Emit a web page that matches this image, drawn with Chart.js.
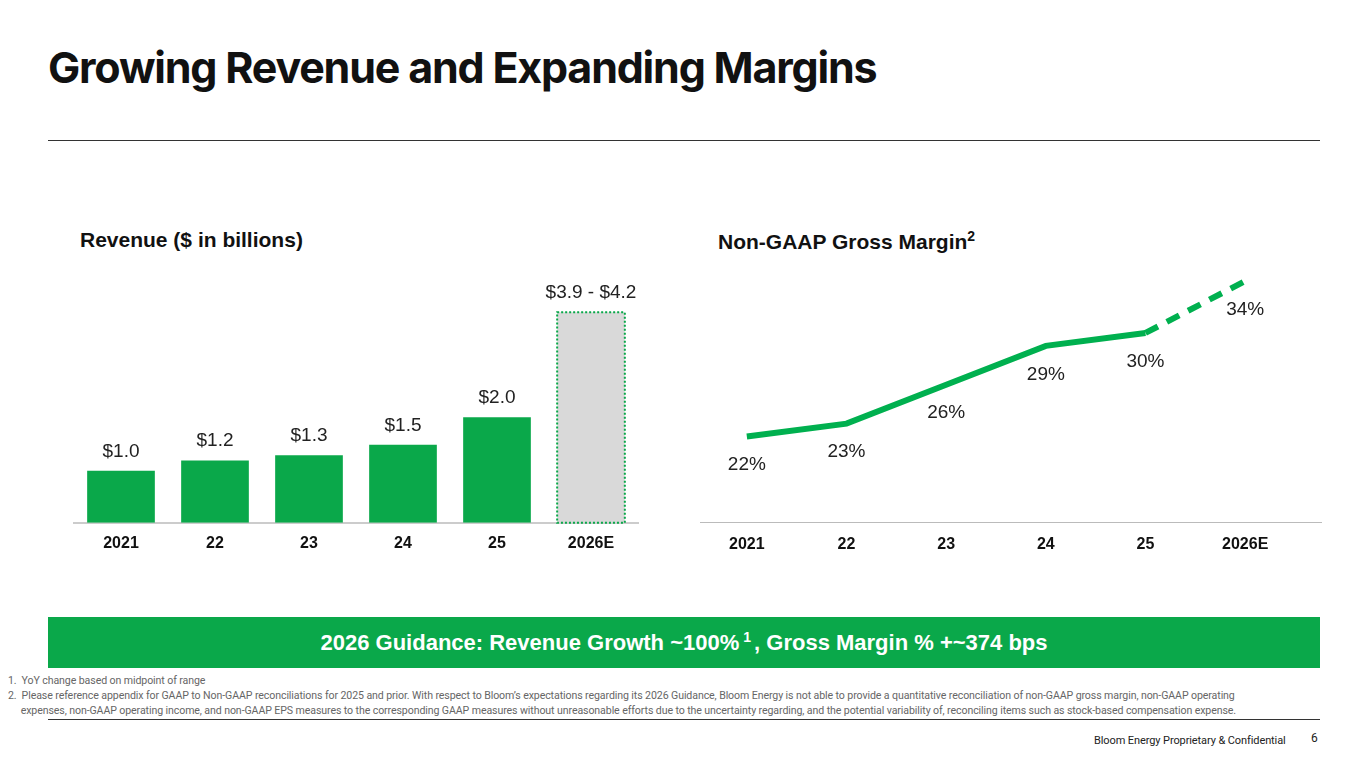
<!DOCTYPE html>
<html>
<head>
<meta charset="utf-8">
<script src="https://cdn.jsdelivr.net/npm/chart.js@4.4.0/dist/chart.umd.min.js"></script>
<style>
  body { margin:0; width:1365px; height:768px; background:#fff; position:relative; overflow:hidden; font-family:"Liberation Sans", Arial, sans-serif; }
  .abs { position:absolute; }
  h1 { position:absolute; left:48px; top:41px; margin:0; font:700 43px Inter, sans-serif; letter-spacing:-1.2px; color:#111; }
  .rule { position:absolute; height:1px; background:#333; }
  .sub { font-weight:700; font-size:21px; color:#111; }
  .banner { left:48px; top:617px; width:1272px; height:51px; background:#0aa84a; color:#fff; font-weight:700; font-size:22px; display:flex; align-items:center; justify-content:center; }
  .note { font:10.6px "Roboto", sans-serif; color:#666; line-height:15px; letter-spacing:-0.1px; }
</style>
</head>
<body>
<h1>Growing Revenue and Expanding Margins</h1>
<div class="rule" style="left:48px;top:140px;width:1272px;"></div>
<div class="abs sub" style="left:80px;top:228px;">Revenue ($ in billions)</div>
<div class="abs sub" style="left:718px;top:228px;">Non-GAAP Gross Margin<sup style="font-size:14px">2</sup></div>

<div class="abs" style="left:70px;top:250px;width:572px;height:306px;"><canvas id="rev"></canvas></div>
<div class="abs" style="left:685px;top:250px;width:622px;height:310px;"><canvas id="gm"></canvas></div>
<div class="rule" style="left:700px;top:522px;width:622px;background:#bbb;"></div>

<div class="abs banner"><span>2026 Guidance: Revenue Growth ~100%<sup style="font-size:14px;margin:0 3px 0 4px">1</sup>, Gross Margin % +~374 bps</span></div>
<div class="abs note" style="left:8px;top:673px;width:1355px;">
1.&nbsp;&nbsp;YoY change based on midpoint of range<br>
2.&nbsp;&nbsp;Please reference appendix for GAAP to Non-GAAP reconciliations for 2025 and prior. With respect to Bloom’s expectations regarding its 2026 Guidance, Bloom Energy is not able to provide a quantitative reconciliation of non-GAAP gross margin, non-GAAP operating<br>
&nbsp;&nbsp;&nbsp;&nbsp;&nbsp;expenses, non-GAAP operating income, and non-GAAP EPS measures to the corresponding GAAP measures without unreasonable efforts due to the uncertainty regarding, and the potential variability of, reconciling items such as stock-based compensation expense.
</div>
<div class="rule" style="left:48px;top:719px;width:1272px;"></div>
<div class="abs note" style="left:1094px;top:733px;color:#222;font-size:11px;">Bloom Energy Proprietary &amp; Confidential</div>
<div class="abs note" style="left:1311px;top:731px;color:#222;font-size:12px;">6</div>

<script>
const years = ['2021', '22', '23', '24', '25', '2026E'];
const revenue = [1.0, 1.2, 1.3, 1.5, 2.03, 4.05];
const revenueLabels = ['$1.0', '$1.2', '$1.3', '$1.5', '$2.0', '$3.9 - $4.2'];
const margin = [22, 23, 26, 29, 30, 34];
const marginLabels = ['22%', '23%', '26%', '29%', '30%', '34%'];

const GREEN = '#0aa84a';

const labelPlugin = {
  id: 'labels',
  afterDatasetsDraw(chart, args, opts) {
    const ctx = chart.ctx;
    const meta = chart.getDatasetMeta(0);
    ctx.save();
    ctx.font = '19px "Liberation Sans", Arial';
    ctx.fillStyle = '#222';
    ctx.textAlign = 'center';
    meta.data.forEach((el, i) => {
      if (opts.below) {
        ctx.textBaseline = 'top';
        ctx.fillText(opts.text[i], el.x, el.y + 19);
      } else {
        ctx.textBaseline = 'bottom';
        ctx.fillText(opts.text[i], el.x, el.y - 10);
      }
    });
    ctx.restore();
  }
};

// dotted green outline around the estimate bar
const dottedBar = {
  id: 'dottedBar',
  afterDatasetsDraw(chart) {
    const el = chart.getDatasetMeta(0).data[5];
    const ctx = chart.ctx;
    const w = el.width / 2;
    ctx.save();
    ctx.strokeStyle = GREEN;
    ctx.lineWidth = 2;
    ctx.setLineDash([2, 2]);
    ctx.strokeRect(el.x - w, el.y, el.width, el.base - el.y);
    ctx.restore();
  }
};

new Chart(document.getElementById('rev'), {
  type: 'bar',
  data: {
    labels: years,
    datasets: [{
      data: revenue,
      backgroundColor: revenue.map((v, i) => i === 5 ? '#d9d9d9' : GREEN),
      borderWidth: 0,
      categoryPercentage: 0.72, barPercentage: 1
    }]
  },
  options: {
    responsive: true, maintainAspectRatio: false, animation: false,
    layout: { padding: { top: 0, left: 4, right: 4 } },
    plugins: { legend: { display: false }, tooltip: { enabled: false }, labels: { text: revenueLabels } },
    scales: {
      x: { grid: { display: false }, border: { color: '#ccc', width: 2 },
           ticks: { color: '#111', font: { family: '"Liberation Sans", Arial', size: 16, weight: 'bold' }, padding: 3 } },
      y: { display: false, min: 0, max: 5.25 }
    }
  },
  plugins: [labelPlugin, dottedBar]
});

new Chart(document.getElementById('gm'), {
  type: 'line',
  data: {
    labels: years,
    datasets: [{
      data: margin,
      borderColor: '#00b04f',
      borderWidth: 6,
      pointRadius: 0,
      tension: 0,
      segment: { borderDash: ctx => ctx.p1DataIndex === 5 ? [14, 10] : undefined }
    }]
  },
  options: {
    responsive: true, maintainAspectRatio: false, animation: false,
    layout: { padding: { left: 12, right: 12 } },
    plugins: { legend: { display: false }, tooltip: { enabled: false }, labels: { text: marginLabels, below: true } },
    scales: {
      x: { offset: true, grid: { display: false }, border: { display: false },
           ticks: { color: '#111', font: { family: '"Liberation Sans", Arial', size: 16, weight: 'bold' }, padding: 6 } },
      y: { display: false, min: 15.5, max: 36.4 }
    }
  },
  plugins: [labelPlugin]
});
</script>
</body>
</html>
